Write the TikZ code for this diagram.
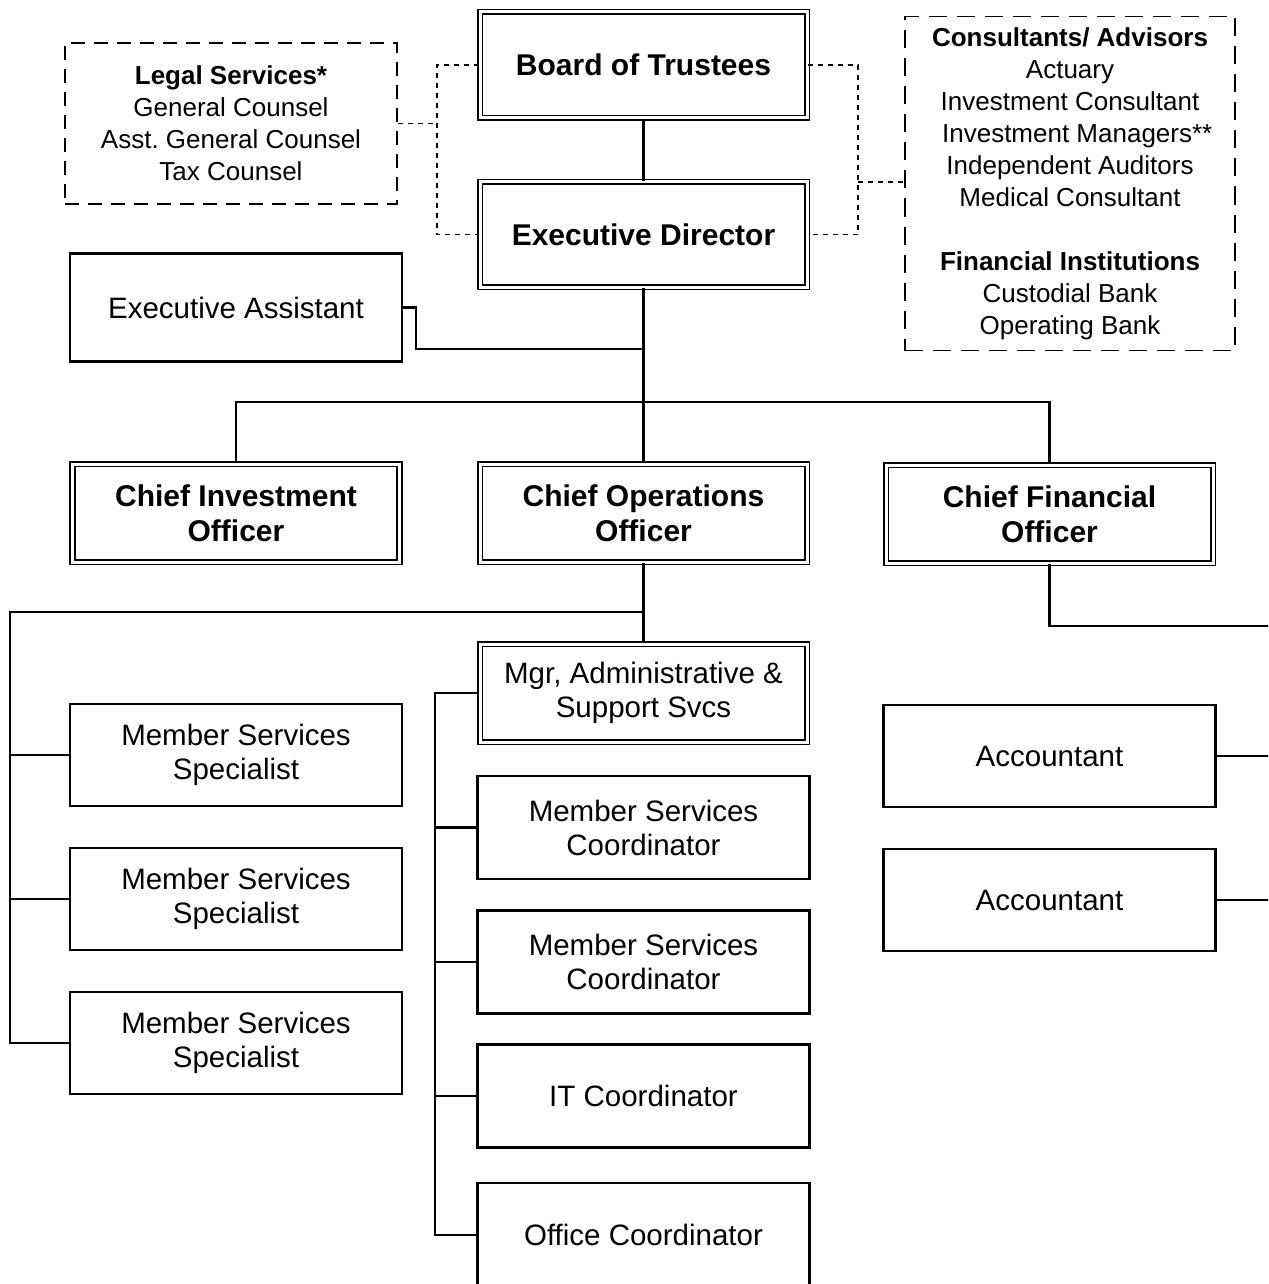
\documentclass[tikz,border=0pt]{standalone}
\usepackage{fontspec}
\setmainfont{Liberation Sans}
\usepackage{tikz}

\tikzset{
  unit/.style={draw, line width=2.2pt, inner sep=0pt, align=center, minimum width=332pt, font=\fontsize{29.5}{34}\selectfont},
  head/.style={unit, double, double distance=3pt, line width=1.9pt, minimum width=327pt, font=\fontsize{30}{35}\selectfont\bfseries},
  adv/.style={draw, line width=1.9pt, dash pattern=on 14pt off 9pt, inner sep=0pt, align=center, font=\fontsize{26}{32}\selectfont},
  link/.style={line width=2.2pt},
  dotlink/.style={line width=1.8pt, dash pattern=on 5pt off 5pt}
}

\begin{document}
\frenchspacing
\begin{tikzpicture}[x=1pt, y=-1pt]
\useasboundingbox (0,0) rectangle (1268,1284);
\clip (0,0) rectangle (1268,1284);

\node[head, minimum height=106pt] (board) at (643.5,65) {Board of Trustees};
\node[head, minimum height=105pt] (exec) at (643.5,234.5) {Executive Director};
\node[adv, minimum width=332pt, minimum height=161pt] (legal) at (231,123.5) {\textbf{Legal Services*}\\General Counsel\\Asst. General Counsel\\Tax Counsel};
\node[adv, dash pattern=on 18pt off 10pt, minimum width=330pt, minimum height=334pt] (consult) at (1070,183.5) {\textbf{Consultants/ Advisors}\\Actuary\\Investment Consultant\\\ \ Investment Managers**\\Independent Auditors\\Medical Consultant\\[32pt]\textbf{Financial Institutions}\\Custodial Bank\\Operating Bank};
\node[unit, minimum height=108pt] (assist) at (236,307.5) {Executive Assistant};

\node[head, minimum height=98pt] (cio) at (236,513) {Chief Investment\\Officer};
\node[head, minimum height=98pt] (coo) at (643.5,513) {Chief Operations\\Officer};
\node[head, minimum height=98pt] (cfo) at (1049.5,514) {Chief Financial\\Officer};

\node[unit, minimum height=102pt] (mss1) at (236,755) {Member Services\\Specialist};
\node[unit, minimum height=102pt] (mss2) at (236,899) {Member Services\\Specialist};
\node[unit, minimum height=102pt] (mss3) at (236,1043) {Member Services\\Specialist};

\node[head, minimum height=98pt, font=\fontsize{29.5}{34}\selectfont] (mgr) at (643.5,693) {Mgr, Administrative \&\\Support Svcs};
\node[unit, minimum height=103pt] (msc1) at (643.5,827.5) {Member Services\\Coordinator};
\node[unit, minimum height=103pt] (msc2) at (643.5,962) {Member Services\\Coordinator};
\node[unit, minimum height=103pt] (itc) at (643.5,1096) {IT Coordinator};
\node[unit, minimum height=104pt] (offc) at (643.5,1235) {Office Coordinator};

\node[unit, minimum height=102pt] (acc1) at (1049.5,756) {Accountant};
\node[unit, minimum height=102pt] (acc2) at (1049.5,900) {Accountant};

\coordinate (ld) at (437,125);
\coordinate (rd) at (858,182);
\coordinate (ea) at (643.5,349);
\coordinate (top) at (643.5,402);
\coordinate (ms) at (10,612);
\coordinate (ad) at (435,693);
\coordinate (fin) at (1272,626);

\draw[dotlink] (board.west) -| (ld) |- (exec.west);
\draw[dotlink] (legal.east) -- (legal.east -| ld);
\draw[dotlink] (board.east) -| (rd) |- (exec.east);
\draw[dotlink] (rd) -- (consult.west |- rd);

\draw[link] (board.south) -- (exec.north);
\draw[link] (exec.south) -- (top);
\draw[link] (assist.east) -- ++(13,0) |- (ea);
\draw[link] (top) -| (cio.north);
\draw[link] (top) -| (cfo.north);
\draw[link] (top) -- (coo.north);

\draw[link] (coo.south) -- (mgr.north);
\draw[link] (mgr.north |- ms) -- (ms) |- (mss3.west);
\draw[link] (ms |- mss1.west) -- (mss1.west);
\draw[link] (ms |- mss2.west) -- (mss2.west);

\draw[link] (mgr.west) -- (ad) |- (offc.west);
\draw[link] (ad |- msc1.west) -- (msc1.west);
\draw[link] (ad |- msc2.west) -- (msc2.west);
\draw[link] (ad |- itc.west) -- (itc.west);

\draw[link] (cfo.south) |- (fin);
\draw[link] (acc1.east) -- (acc1.east -| fin);
\draw[link] (acc2.east) -- (acc2.east -| fin);
\end{tikzpicture}
\end{document}
